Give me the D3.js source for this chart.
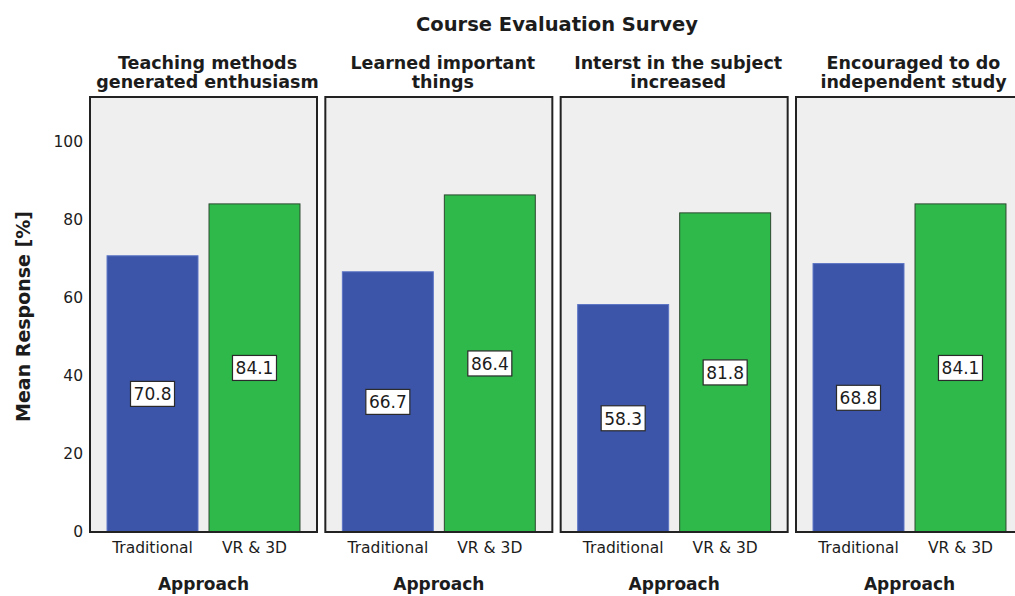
<!DOCTYPE html>
<html>
<head>
<meta charset="utf-8">
<script src="https://cdn.jsdelivr.net/npm/d3@7"></script>
<style>
  html, body { margin: 0; padding: 0; background: #ffffff; overflow: hidden; }
  svg { display: block; }
  text { font-family: "DejaVu Sans", Verdana, sans-serif; fill: #1c1c1c; }
</style>
</head>
<body>
<svg id="chart" width="1015" height="596"></svg>
<script>
// Survey items (one panel each), wrapped onto two title lines
const items = [
  ["Teaching methods", "generated enthusiasm"],
  ["Learned important", "things"],
  ["Interst in the subject", "increased"],
  ["Encouraged to do", "independent study"]
];
const approaches = ["Traditional", "VR & 3D"];
const traditionalMeans = [70.8, 66.7, 58.3, 68.8];
const vr3dMeans = [84.1, 86.4, 81.8, 84.1];
const yTicks = [0, 20, 40, 60, 80, 100];

const colors = { "Traditional": "#3c55a9", "VR & 3D": "#2fb94b" };
const strokes = { "Traditional": "#5b74c4", "VR & 3D": "#2c4a30" };

const svg = d3.select("#chart");
const plotTop = 97, plotBottom = 532;

// One band per panel; the last panel runs past the right edge
const facet = d3.scaleBand()
  .domain(d3.range(items.length))
  .range([90, 1023])
  .paddingInner(0.0354)
  .paddingOuter(0);

const x = d3.scaleBand()
  .domain(approaches)
  .range([0, facet.bandwidth()])
  .paddingInner(0.108)
  .paddingOuter(0.167);

const y = d3.scaleLinear().domain([0, 111.5]).range([plotBottom, plotTop]);

// Main title
svg.append("text")
  .attr("x", 557).attr("y", 31)
  .attr("text-anchor", "middle")
  .style("font-weight", "bold").style("font-size", "19.5px")
  .text("Course Evaluation Survey");

// Y axis labels along the first panel
const yAxis = d3.axisLeft(y).tickValues(yTicks).tickSize(0).tickPadding(7);
const ya = svg.append("g").attr("transform", `translate(${facet(0)},0)`).call(yAxis);
ya.select(".domain").remove();
ya.selectAll("text")
  .style("font-size", "15.5px")
  .style("font-family", "'DejaVu Sans', sans-serif")
  .attr("fill", "#1c1c1c");

svg.append("text")
  .attr("transform", `translate(30,${(plotTop + plotBottom) / 2 + 2}) rotate(-90)`)
  .attr("text-anchor", "middle")
  .style("font-weight", "bold").style("font-size", "19px")
  .text("Mean Response [%]");

items.forEach((lines, i) => {
  const g = svg.append("g").attr("transform", `translate(${facet(i)},0)`);
  const bw = facet.bandwidth();
  const rows = [
    { approach: "Traditional", value: traditionalMeans[i] },
    { approach: "VR & 3D", value: vr3dMeans[i] }
  ];

  // Panel background
  g.append("rect")
    .attr("x", 0).attr("y", plotTop)
    .attr("width", bw).attr("height", plotBottom - plotTop)
    .attr("fill", "#efefef");

  // Bars
  g.selectAll("rect.bar").data(rows).join("rect")
    .attr("class", "bar")
    .attr("x", d => x(d.approach))
    .attr("y", d => y(d.value))
    .attr("width", x.bandwidth())
    .attr("height", d => y(0) - y(d.value))
    .attr("fill", d => colors[d.approach])
    .attr("stroke", d => strokes[d.approach])
    .attr("stroke-width", 1);

  // Value labels in white boxes at mid-bar
  const lab = g.selectAll("g.lab").data(rows).join("g")
    .attr("class", "lab")
    .attr("transform", d => `translate(${x(d.approach) + x.bandwidth() / 2},${y(d.value / 2)})`);
  lab.append("rect")
    .attr("x", -22).attr("y", -12.5)
    .attr("width", 44).attr("height", 25)
    .attr("fill", "#ffffff").attr("stroke", "#2a2a2a").attr("stroke-width", 1.2);
  lab.append("text")
    .attr("text-anchor", "middle").attr("y", 6.5)
    .style("font-size", "17px")
    .text(d => d.value.toFixed(1));

  // Panel frame
  g.append("rect")
    .attr("x", 0).attr("y", plotTop)
    .attr("width", bw).attr("height", plotBottom - plotTop)
    .attr("fill", "none").attr("stroke", "#222222").attr("stroke-width", 2);

  // Panel title
  const t = g.append("text")
    .attr("text-anchor", "middle")
    .style("font-weight", "bold").style("font-size", "17.5px");
  lines.forEach((ln, k) => {
    t.append("tspan").attr("x", bw / 2 + 4).attr("y", 69 + k * 19).text(ln);
  });

  // Category axis
  const xa = g.append("g").attr("transform", `translate(0,${plotBottom})`)
    .call(d3.axisBottom(x).tickSize(0).tickPadding(10));
  xa.select(".domain").remove();
  xa.selectAll("text")
    .style("font-size", "15.5px")
    .style("font-family", "'DejaVu Sans', sans-serif")
    .attr("fill", "#1c1c1c");

  g.append("text")
    .attr("x", bw / 2).attr("y", 590)
    .attr("text-anchor", "middle")
    .style("font-weight", "bold").style("font-size", "17px")
    .text("Approach");
});
</script>
</body>
</html>
